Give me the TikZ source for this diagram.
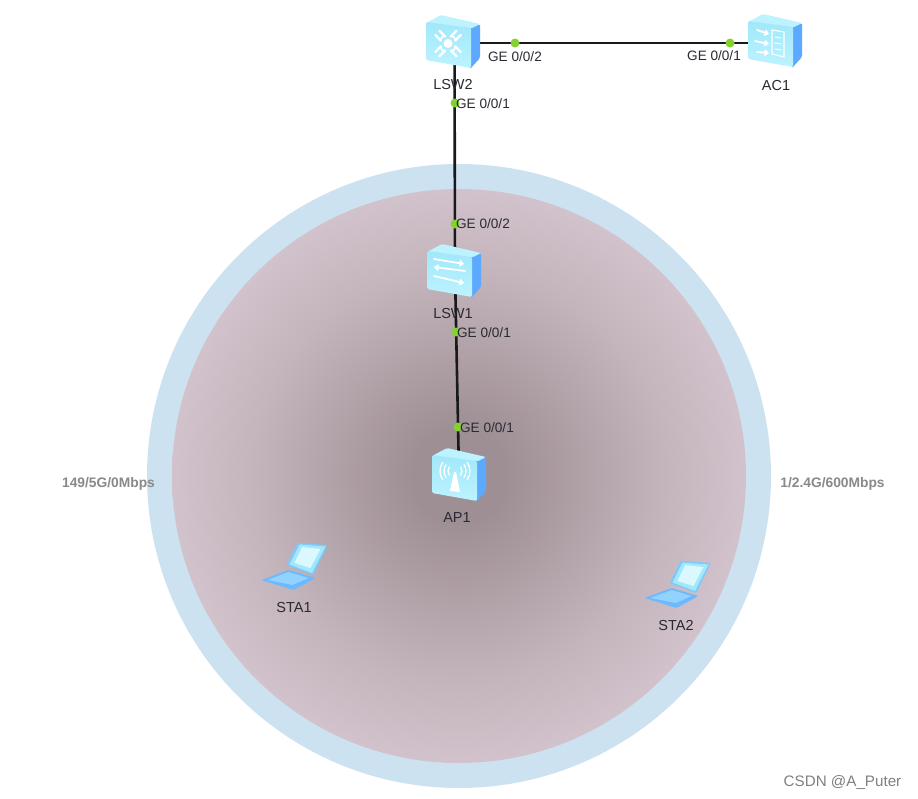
\documentclass[tikz,border=0pt]{standalone}
\usepackage{fontspec}
\setmainfont{Liberation Sans}
\usetikzlibrary{arrows.meta}
\definecolor{ringblue}{HTML}{CDE2F1}
\definecolor{coreedge}{HTML}{DCCCD6}
\definecolor{coremid}{HTML}{C4B4BC}
\definecolor{corein}{HTML}{9E8F94}
\definecolor{facelight}{HTML}{A0E8FA}
\definecolor{facepale}{HTML}{BDF3FF}
\definecolor{sideblue}{HTML}{5CA9FF}
\definecolor{portgreen}{HTML}{84D232}
\definecolor{txt}{HTML}{2A2A33}
\definecolor{bandgrey}{HTML}{8A8A8A}
\pgfdeclareradialshading{coreshade}{\pgfpointorigin}{
  color(0bp)=(corein);
  color(4bp)=(corein);
  color(18bp)=(coremid);
  color(30bp)=(coreedge);
  color(50bp)=(coreedge)}
\tikzset{
  x=1pt,y=-1pt,
  devbox/.style={minimum width=54pt,minimum height=53pt,inner sep=0pt,outer sep=0pt},
  link/.style={draw=black!90,line width=2.6pt},
  port/.style={circle,fill=portgreen,draw=none,minimum size=9pt,inner sep=0pt},
  portlabel/.style={font=\fontsize{13.6}{15}\selectfont,text=txt,inner sep=0pt},
  devlabel/.style={font=\fontsize{14.5}{16}\selectfont,text=txt,inner sep=0pt},
  bandlabel/.style={font=\fontsize{13.8}{15}\selectfont\bfseries,text=bandgrey,inner sep=0pt},
  glyph/.style={draw=white,line width=1.8pt,line cap=round,line join=round},
  glyphtip/.style={glyph,-{Straight Barb[length=3pt,width=5pt]}},
  pics/boxbody/.style={code={
    \fill[sideblue,rounded corners=1.5pt] (44,6) -- (54,2) -- (54,36) -- (45,46) -- (44,46) -- cycle;
    \fill[facepale,rounded corners=1.5pt] (0,1) -- (15,-7) -- (54,2) -- (45,6.5) -- cycle;
    \shade[top color=facelight,bottom color=facepale,rounded corners=1.5pt] (0,0) -- (45,6) -- (45,46) -- (0,38) -- cycle;
  }},
  pics/laptop/.style={code={
    \fill[sideblue!75!facelight,rounded corners=1pt] (0,11) -- (27,1) -- (54,9) -- (32,21) -- cycle;
    \fill[sideblue!45!facepale] (6,11) -- (27,3) -- (47,9) -- (31,16) -- cycle;
    \fill[sideblue!50!facelight,rounded corners=1pt] (25,-4) -- (36,-26) -- (66,-24) -- (52,6) -- cycle;
    \fill[facelight] (28,-4.5) -- (38,-24.5) -- (64,-22.5) -- (50.5,4) -- cycle;
    \fill[facepale!55!white] (33,-6) -- (40.5,-22) -- (59,-20) -- (49,-1) -- cycle;
  }},
}
\begin{document}
\begin{tikzpicture}
\useasboundingbox (0,0) rectangle (918,798);
\fill[white] (0,0) rectangle (918,798);
% coverage
\fill[ringblue] (459,476) circle[radius=312];
\shade[shading=coreshade] (459,476) circle[radius=287];

% device anchors
\node[devbox] (lsw2) at (454.5,43) {};
\node[devbox] (ac1) at (775,43) {};
\node[devbox] (lsw1) at (455,272) {};
\node[devbox] (ap1) at (459,475) {};
\coordinate (sta1) at (294,575);
\coordinate (sta2) at (677,593);

% links
\draw[link] (lsw2.center) -- (ac1.center);
\draw[link] (lsw2.center) -- (lsw1.center);
\draw[link] (lsw1.center) -- (ap1.center);

% LSW2
\pic at (426,22) {boxbody};
\begin{scope}[shift={(426,22)}]
  \fill[white] (22,21.5) circle[radius=4.5];
  \foreach \a in {0,90,180,270}{
    \begin{scope}[shift={(22,21.5)},rotate=\a+45]
      \draw[glyph,line width=2.2pt] (7,-3) -- (15,-3);
      \draw[glyph,line width=2.2pt] (7,3) -- (15,3);
      \draw[glyph,line width=1.5pt] (7,-3) -- (9,0) -- (7,3);
    \end{scope}
  }
\end{scope}

% AC1
\pic at (748,21) {boxbody};
\begin{scope}[shift={(748,21)}]
  \draw[glyphtip] (9,9) -- (21,13);
  \draw[glyphtip] (7,20) -- (21,23);
  \draw[glyphtip] (9,31) -- (21,32);
  \draw[glyph,line width=1.2pt] (24,9) -- (36,11) -- (36,36) -- (24,33) -- cycle;
  \draw[glyph,line width=1pt] (27,16) -- (33,17) (27,22) -- (33,23) (27,28) -- (33,29);
\end{scope}

% LSW1
\pic at (427,251) {boxbody};
\begin{scope}[shift={(427,251)}]
  \draw[glyphtip] (7,8) -- (37,13);
  \draw[glyphtip] (38,20) -- (7,16);
  \draw[glyphtip] (7,25) -- (37,32);
\end{scope}

% AP1
\pic at (432,455) {boxbody};
\begin{scope}[shift={(432,455)}]
  \fill[white] (22,17) -- (18,36) -- (28,37) -- (24,17) -- cycle;
  \foreach \r in {7,11,15}{
    \draw[glyph,line width=1.3pt] (23,16) ++(-35:\r) arc[start angle=-35,end angle=35,radius=\r];
    \draw[glyph,line width=1.3pt] (23,16) ++(145:\r) arc[start angle=145,end angle=215,radius=\r];
  }
\end{scope}

% stations
\pic at (261.5,569) {laptop};
\pic at (644.5,587) {laptop};

% ports
\node[port] (p1) at (515,43) {};
\node[port] (p2) at (730,43) {};
\node[port] (p3) at (455,103) {};
\node[port] (p4) at (455,224) {};
\node[port] (p5) at (456,332) {};
\node[port] (p6) at (458,427) {};

% port labels
\node[portlabel] (l1) at (515,56.5) {GE 0/0/2};
\node[portlabel] (l2) at (714,55.5) {GE 0/0/1};
\node[portlabel] (l3) at (483,104) {GE 0/0/1};
\node[portlabel] (l4) at (483,224) {GE 0/0/2};
\node[portlabel] (l5) at (484,333) {GE 0/0/1};
\node[portlabel] (l6) at (487,428) {GE 0/0/1};

% device labels
\node[devlabel] (t1) at (453,84.5) {LSW2};
\node[devlabel] (t2) at (776,85.5) {AC1};
\node[devlabel] (t3) at (453,313.5) {LSW1};
\node[devlabel] (t4) at (457,517.5) {AP1};
\node[devlabel] (t5) at (294,607.5) {STA1};
\node[devlabel] (t6) at (676,625.5) {STA2};

% bands
\node[bandlabel] (b1) at (108.5,484) {149/5G/0Mbps};
\node[bandlabel] (b2) at (832.5,484) {1/2.4G/600Mbps};

% watermark
\node[font=\fontsize{15.2}{17}\selectfont,text=black!50,inner sep=0pt] (wm) at (842.5,782) {CSDN @A\_Puter};
\end{tikzpicture}
\end{document}
